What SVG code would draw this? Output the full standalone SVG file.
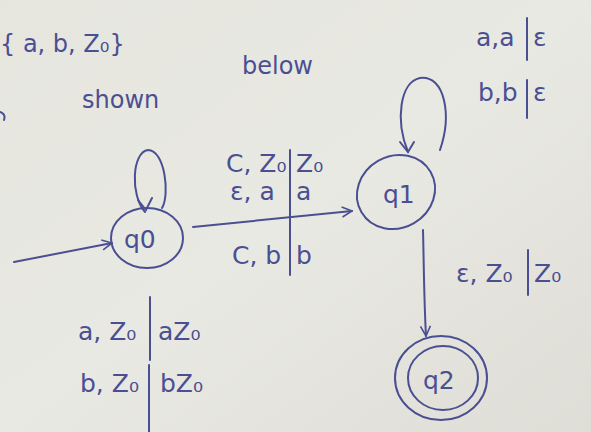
<svg xmlns="http://www.w3.org/2000/svg" width="591" height="432" viewBox="0 0 591 432">
<defs>
<linearGradient id="paper" x1="0" y1="0" x2="1" y2="1">
<stop offset="0" stop-color="#e6e6df"/>
<stop offset="0.5" stop-color="#e9e9e3"/>
<stop offset="1" stop-color="#deddd6"/>
</linearGradient>
<marker id="arr" viewBox="0 0 12 12" refX="11" refY="6" markerWidth="12" markerHeight="12" markerUnits="userSpaceOnUse" orient="auto">
<path d="M1,1 L11,6 L1,11" fill="none" stroke="#4a4f92" stroke-width="1.6"/>
</marker>
<style>
.ink{fill:none;stroke:#4a4f92;stroke-width:2;stroke-linecap:round}
.t{font-family:"DejaVu Sans",sans-serif;fill:#4a4f92;font-size:25px}
.s{font-family:"DejaVu Sans",sans-serif;fill:#4a4f92;font-size:24px}
</style>
</defs>
<rect width="591" height="432" fill="url(#paper)"/>
<text class="s" x="0" y="52">{ a, b, Z₀}</text>
<text class="s" x="242" y="74">below</text>
<text class="s" x="82" y="108">shown</text>
<path class="ink" d="M0,112 Q6,114 4,120"/>
<g id="q0">
<ellipse class="ink" cx="147" cy="238" rx="36" ry="30"/>
<text class="t" x="124" y="248">q0</text>
</g>
<g id="q1">
<ellipse class="ink" cx="396" cy="192" rx="40" ry="36" transform="rotate(-30 396 192)"/>
<text class="t" x="383" y="203">q1</text>
</g>
<g id="q2">
<ellipse class="ink" cx="441" cy="378" rx="46" ry="42"/>
<ellipse class="ink" cx="443" cy="378" rx="35" ry="32"/>
<text class="t" x="423" y="389">q2</text>
</g>
<g id="connectors">
<path class="ink" d="M14,262 L112,243" marker-end="url(#arr)"/>
<path class="ink" d="M145,212 C130,195 132,152 148,150 C165,150 170,195 162,208" />
<path class="ink" d="M138,200 L146,210 L152,198"/>
<path class="ink" d="M193,227 L352,211" marker-end="url(#arr)"/>
<path class="ink" d="M408,152 C395,120 400,82 420,78 C445,75 452,115 440,150"/>
<path class="ink" d="M400,142 L408,152 L414,142"/>
<path class="ink" d="M423,230 C424,270 424,300 426,336" marker-end="url(#arr)"/>
<path class="ink" d="M290,150 L290,275"/>
<path class="ink" d="M150,297 L150,360 M149,365 L149,432"/>
<path class="ink" d="M527,18 L527,60 M527,80 L527,118"/>
<path class="ink" d="M528,250 L528,295"/>
</g>
<g id="labels">
<text class="t" x="226" y="172">C, Z₀</text><text class="t" x="296" y="172">Z₀</text>
<text class="t" x="230" y="200">ε, a</text><text class="t" x="296" y="200">a</text>
<text class="t" x="232" y="264">C, b</text><text class="t" x="296" y="264">b</text>
<text class="t" x="476" y="46">a,a</text><text class="t" x="533" y="46">ε</text>
<text class="t" x="478" y="101">b,b</text><text class="t" x="533" y="101">ε</text>
<text class="t" x="456" y="282">ε, Z₀</text><text class="t" x="534" y="282">Z₀</text>
<text class="t" x="78" y="340">a, Z₀</text><text class="t" x="158" y="340">aZ₀</text>
<text class="t" x="80" y="392">b, Z₀</text><text class="t" x="160" y="392">bZ₀</text>
</g>
</svg>
